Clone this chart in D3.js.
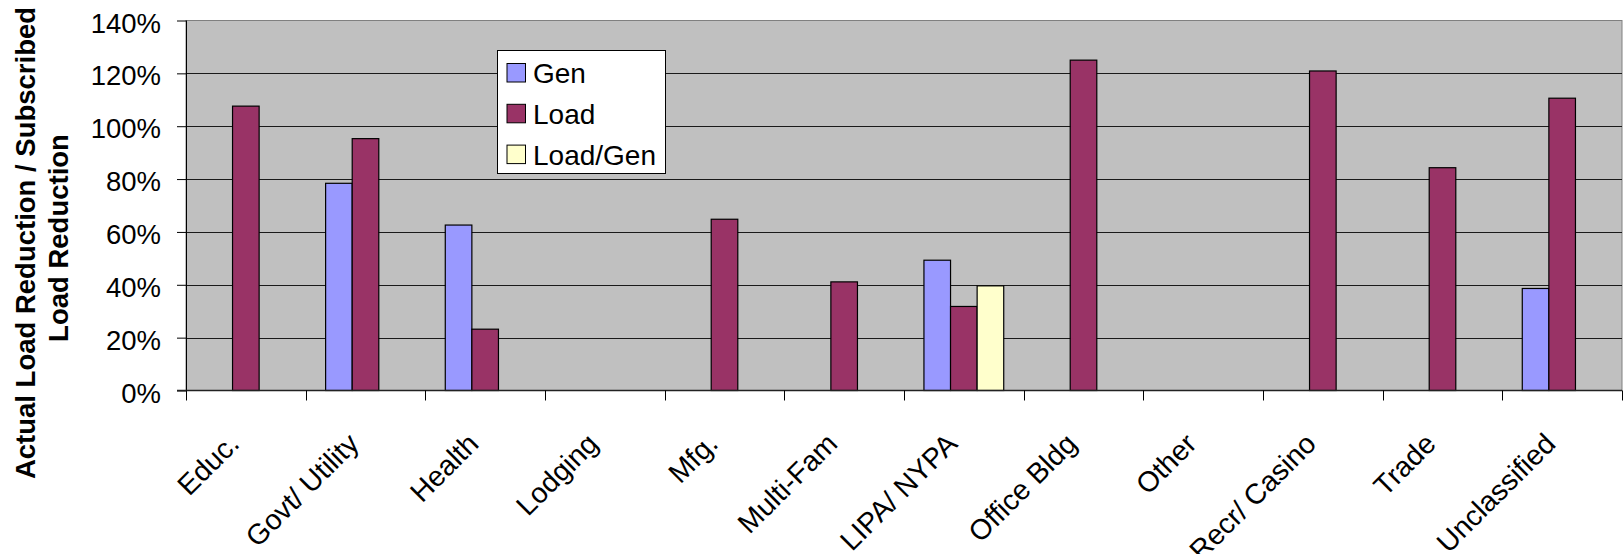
<!DOCTYPE html>
<html>
<head>
<meta charset="utf-8">
<script src="https://cdn.jsdelivr.net/npm/d3@7"></script>
<style>
  html, body { margin: 0; padding: 0; background: #fff; }
  svg { display: block; }
  text { font-family: "Liberation Sans", Arial, Helvetica, sans-serif; fill: #000; }
</style>
</head>
<body>
<svg id="chart" width="1624" height="554"></svg>
<script>
// Sector categories along the x axis
const categories = ["Educ.", "Govt/ Utility", "Health", "Lodging", "Mfg.", "Multi-Fam",
  "LIPA/ NYPA", "Office Bldg", "Other", "Recr/ Casino", "Trade", "Unclassified"];

// Actual / subscribed load reduction, in percent (null = no bar)
const genValues     = [null, 78.4, 62.6, null, null, null, 49.3, null, null, null, null, 38.6];
const loadValues    = [107.6, 95.3, 23.2, null, 64.8, 41.1, 31.8, 125.0, null, 120.9, 84.3, 110.6];
const loadGenValues = [null, null, null, null, null, null, 39.6, null, null, null, null, null];

const seriesNames  = ["Gen", "Load", "Load/Gen"];
const seriesColors = ["#9999FF", "#993366", "#FFFFCC"];
const yTicks = [0, 20, 40, 60, 80, 100, 120, 140];
const titleLines = ["Actual Load Reduction / Subscribed", "Load Reduction"];

const series = [genValues, loadValues, loadGenValues];

const svg = d3.select("#chart");
const plot = { left: 186, right: 1622, top: 20.5, bottom: 390.5 };

const x = d3.scaleBand().domain(categories).range([plot.left, plot.right]);
const y = d3.scaleLinear().domain([0, 140]).range([plot.bottom, plot.top]);

// each group of three bars takes 3 / 4.5 of the category width (150% gap)
const groupW = x.bandwidth() * 3 / 4.5;
const xs = d3.scaleBand().domain(seriesNames).range([0, groupW]);

// plot area
svg.append("rect")
  .attr("x", plot.left).attr("y", plot.top)
  .attr("width", plot.right - plot.left).attr("height", plot.bottom - plot.top)
  .attr("fill", "#C0C0C0").attr("stroke", "#808080").attr("stroke-width", 1);

// horizontal gridlines
svg.append("g").selectAll("line")
  .data(yTicks.filter(d => d > 0 && d < 140))
  .join("line")
  .attr("x1", plot.left).attr("x2", plot.right)
  .attr("y1", d => Math.round(y(d)) + 0.5).attr("y2", d => Math.round(y(d)) + 0.5)
  .attr("stroke", "#1a1a1a").attr("stroke-width", 1);

// bars
const barData = [];
categories.forEach((c, i) => {
  series.forEach((vals, s) => {
    if (vals[i] != null) barData.push({ c, s, v: vals[i] });
  });
});
svg.append("g").selectAll("rect")
  .data(barData)
  .join("rect")
  .attr("x", d => x(d.c) + (x.bandwidth() - groupW) / 2 + xs(seriesNames[d.s]))
  .attr("y", d => y(d.v))
  .attr("width", xs.bandwidth())
  .attr("height", d => y(0) - y(d.v))
  .attr("fill", d => seriesColors[d.s])
  .attr("stroke", "#000").attr("stroke-width", 1.2);

// y axis
const yAxis = svg.append("g")
  .attr("transform", `translate(${plot.left},0)`)
  .call(d3.axisLeft(y).tickValues(yTicks).tickFormat(d => d + "%").tickSize(9).tickPadding(16));
yAxis.select(".domain").attr("stroke", "#000").attr("d", `M0.5,${plot.top}V${plot.bottom}`);
yAxis.selectAll(".tick line").attr("stroke", "#000");
yAxis.selectAll(".tick text")
  .attr("font-size", 27.5).attr("dy", "0.42em")
  .style("font-family", "'Liberation Sans', Arial, sans-serif");

// x axis line and category boundary ticks
const xAxis = svg.append("g");
xAxis.append("line")
  .attr("x1", plot.left - 9).attr("x2", plot.right)
  .attr("y1", plot.bottom).attr("y2", plot.bottom)
  .attr("stroke", "#222").attr("stroke-width", 1.5);
const bounds = categories.map(c => x(c)).concat([x(categories[categories.length - 1]) + x.bandwidth()]);
xAxis.selectAll("line.tk")
  .data(bounds)
  .join("line").attr("class", "tk")
  .attr("x1", d => Math.round(d) + 0.5).attr("x2", d => Math.round(d) + 0.5)
  .attr("y1", plot.bottom).attr("y2", plot.bottom + 10)
  .attr("stroke", "#000");
xAxis.selectAll("text")
  .data(categories)
  .join("text")
  .attr("text-anchor", "end")
  .attr("font-size", 28.5)
  .attr("transform", d => `translate(${x(d) + x.bandwidth() / 2 - 5},${plot.bottom + 55}) rotate(-45)`)
  .text(d => d);

// y axis title
const titleCenters = [243, 238];
const titleBaselines = [35, 68];
svg.append("g").selectAll("text")
  .data(titleLines)
  .join("text")
  .attr("text-anchor", "middle")
  .attr("font-size", 27.5).attr("font-weight", "bold")
  .attr("transform", (d, i) => `translate(${titleBaselines[i]},${titleCenters[i]}) rotate(-90)`)
  .text(d => d);

// legend
const legend = svg.append("g").attr("transform", "translate(497.5,50.5)");
legend.append("rect")
  .attr("width", 168).attr("height", 123)
  .attr("fill", "#fff").attr("stroke", "#000").attr("stroke-width", 1);
const items = legend.selectAll("g.item")
  .data(seriesNames)
  .join("g").attr("class", "item")
  .attr("transform", (d, i) => `translate(9.5,${13 + i * 40.8})`);
items.append("rect")
  .attr("width", 18.5).attr("height", 18.5)
  .attr("fill", (d, i) => seriesColors[i])
  .attr("stroke", "#000").attr("stroke-width", 1);
items.append("text")
  .attr("x", 26).attr("y", 19.5)
  .attr("font-size", 28)
  .text(d => d);
</script>
</body>
</html>
